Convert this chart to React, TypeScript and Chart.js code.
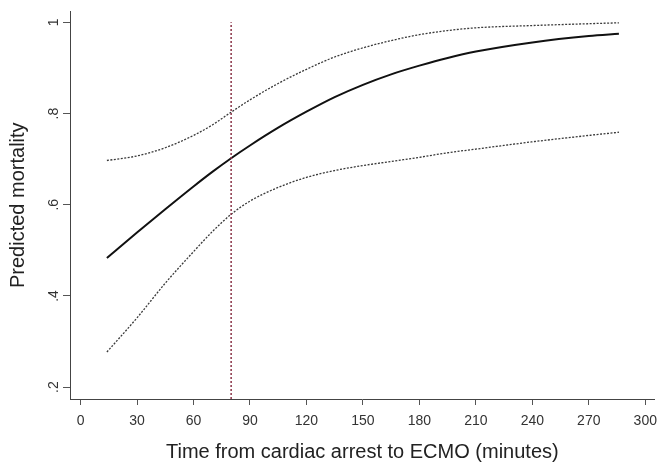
import React, { useEffect, useRef } from "react";
import { Chart, registerables } from "chart.js";

Chart.register(...registerables);

const timeMinutes = [14, 30, 45, 60, 70, 80, 90, 105, 120, 135, 150, 165, 180, 195, 210, 240, 270, 286];
const predicted = [0.483, 0.539, 0.590, 0.640, 0.672, 0.702, 0.730, 0.769, 0.804, 0.836, 0.863, 0.886, 0.905, 0.922, 0.936, 0.956, 0.970, 0.975];
const upperCI = [0.697, 0.707, 0.725, 0.752, 0.775, 0.803, 0.830, 0.866, 0.897, 0.924, 0.944, 0.960, 0.973, 0.982, 0.988, 0.993, 0.997, 0.999];
const lowerCI = [0.277, 0.352, 0.428, 0.497, 0.541, 0.579, 0.608, 0.638, 0.660, 0.675, 0.686, 0.695, 0.704, 0.714, 0.722, 0.738, 0.752, 0.759];

const cutoffMinutes = 80;
const cutoffRange = [0.174, 1.0];

const xTickValues = [0, 30, 60, 90, 120, 150, 180, 210, 240, 270, 300];
const yTickValues = [0.2, 0.4, 0.6, 0.8, 1.0];
const yTickLabels = [".2", ".4", ".6", ".8", "1"];

const xTitle = "Time from cardiac arrest to ECMO (minutes)";
const yTitle = "Predicted mortality";

const FONT = "'Liberation Sans', Arial, sans-serif";

export default function App() {
  const canvasRef = useRef<HTMLCanvasElement | null>(null);

  useEffect(() => {
    if (!canvasRef.current) return;
    const pts = (ys: number[]) => timeMinutes.map((x, i) => ({ x, y: ys[i] }));
    const chart = new Chart(canvasRef.current, {
      type: "line",
      data: {
        datasets: [
          {
            label: "Cutoff",
            data: cutoffRange.map((y) => ({ x: cutoffMinutes, y })),
            borderColor: "#8a3346",
            borderWidth: 1.5,
            borderDash: [2, 2],
            pointRadius: 0,
            fill: false,
          },
          {
            label: "Upper 95% CI",
            data: pts(upperCI),
            borderColor: "#3a3a3a",
            borderWidth: 1.3,
            borderDash: [2, 1.5],
            pointRadius: 0,
            cubicInterpolationMode: "monotone",
            fill: false,
          },
          {
            label: "Lower 95% CI",
            data: pts(lowerCI),
            borderColor: "#3a3a3a",
            borderWidth: 1.3,
            borderDash: [2, 1.5],
            pointRadius: 0,
            cubicInterpolationMode: "monotone",
            fill: false,
          },
          {
            label: "Predicted mortality",
            data: pts(predicted),
            borderColor: "#111111",
            borderWidth: 2,
            pointRadius: 0,
            cubicInterpolationMode: "monotone",
            fill: false,
          },
        ],
      },
      options: {
        animation: false,
        responsive: true,
        maintainAspectRatio: false,
        layout: { padding: { top: 8, right: 3, left: 0, bottom: 0 } },
        plugins: { legend: { display: false }, tooltip: { enabled: false } },
        scales: {
          x: {
            type: "linear",
            min: -5.6,
            max: 305,
            afterBuildTicks: (scale: any) => {
              scale.ticks = xTickValues.map((v) => ({ value: v }));
            },
            afterFit: (scale: any) => {
              scale.height = 63;
            },
            grid: { drawOnChartArea: false, tickLength: 6, tickColor: "#555", tickWidth: 1 },
            border: { display: true, color: "#444", width: 1 },
            ticks: {
              autoSkip: false,
              maxRotation: 0,
              minRotation: 0,
              padding: 8,
              color: "#333",
              font: { family: FONT, size: 14 },
              callback: (v: any) => String(v),
            },
            title: {
              display: true,
              text: xTitle,
              color: "#222",
              font: { family: FONT, size: 20, lineHeight: 1 },
              padding: { top: 0, bottom: 0 },
            },
          },
          y: {
            type: "linear",
            min: 0.174,
            max: 1.024,
            afterBuildTicks: (scale: any) => {
              scale.ticks = yTickValues.map((v) => ({ value: v }));
            },
            afterFit: (scale: any) => {
              scale.width = 70;
            },
            grid: { drawOnChartArea: false, tickLength: 7, tickColor: "#555", tickWidth: 1 },
            border: { display: true, color: "#444", width: 1 },
            ticks: {
              autoSkip: false,
              minRotation: 90,
              maxRotation: 90,
              crossAlign: "center",
              padding: 3,
              color: "#333",
              font: { family: FONT, size: 14 },
              callback: (v: any) => {
                const i = yTickValues.findIndex((t) => Math.abs(t - v) < 1e-6);
                return i >= 0 ? yTickLabels[i] : "";
              },
            },
            title: {
              display: true,
              text: yTitle,
              color: "#222",
              font: { family: FONT, size: 20, lineHeight: 1 },
              padding: { top: 8, bottom: 0 },
            },
          },
        },
      },
    } as any);
    return () => chart.destroy();
  }, []);

  return (
    <div style={{ position: "fixed", left: 0, top: 0, width: 665, height: 462, background: "#fff" }}>
      <canvas ref={canvasRef} />
    </div>
  );
}
